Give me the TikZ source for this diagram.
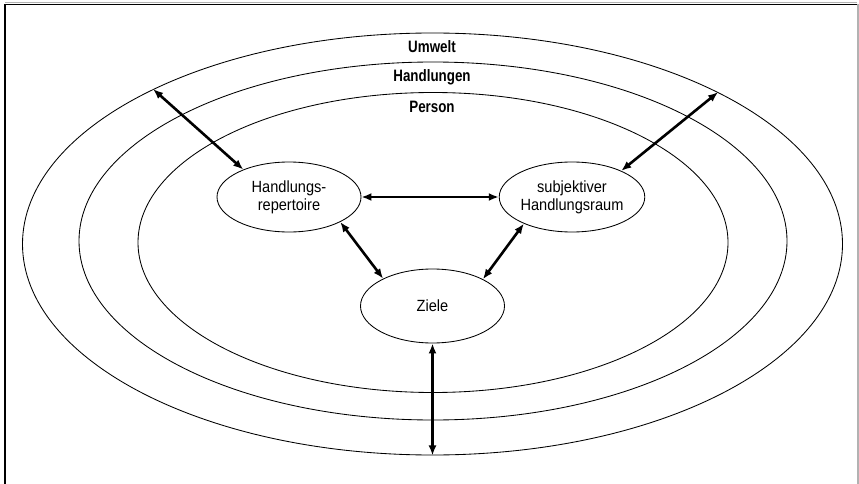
\documentclass[tikz,border=0pt]{standalone}
\usepackage{fontspec}
\setmainfont{Liberation Sans}
\newfontfamily\ringfont{Liberation Sans}[FakeStretch=0.81]
\newfontfamily\boxfont{Liberation Sans}[FakeStretch=0.9]
\usetikzlibrary{shapes.geometric,arrows.meta}
\begin{document}
\begin{tikzpicture}[x=1pt,y=-1pt,
  ring/.style={draw,ellipse,line width=0.85pt,inner sep=0pt},
  bubble/.style={draw,ellipse,line width=0.85pt,inner sep=0pt,align=center,
    font=\boxfont\fontsize{16.2}{18}\selectfont},
  ringlabel/.style={font=\ringfont\bfseries\fontsize{16.5}{18}\selectfont,inner sep=0pt},
  link/.style={line width=2.6pt,{Latex[length=10pt,width=8pt]}-{Latex[length=10pt,width=8pt]}}]
  \useasboundingbox (0,0) rectangle (859,484);
  % frame
  \draw[gray!60,line width=1pt] (5,3) -- (857,3);
  \draw[line width=1.4pt] (5,484) -- (5,4.5) -- (857,4.5);
  \draw[gray!60,line width=1.4pt] (858,4) -- (858,484);
  % nested rings
  \node[ring,minimum width=820pt,minimum height=422pt] (umwelt) at (432.5,244) {};
  \node[ring,minimum width=708pt,minimum height=358pt] (handl) at (433,241) {};
  \node[ring,minimum width=590pt,minimum height=300pt] (person) at (433,242.5) {};
  \node[ringlabel] (lu) at (432,47) {Umwelt};
  \node[ringlabel] (lh) at (432,77) {Handlungen};
  \node[ringlabel] (lp) at (432,107) {Person};
  % inner bubbles
  \node[bubble,minimum width=144pt,minimum height=70pt] (rep) at (289,197) {Handlungs-\\repertoire};
  \node[bubble,minimum width=136pt,minimum height=70pt] (sub) at (572,197) {subjektiver\\Handlungsraum};
  \node[bubble,minimum width=144pt,minimum height=74pt] (ziele) at (432.5,306) {Ziele};
  % connections
  \draw[link] (rep.east) -- (sub.west);
  \draw[link] (rep.-26) -- (ziele.151);
  \draw[link] (sub.209) -- (ziele.28);
  \draw[link] (umwelt.151.7) -- (rep.149);
  \draw[link] (umwelt.28.1) -- (sub.28.6);
  \draw[link] (ziele.south) -- (umwelt.south);
\end{tikzpicture}
\end{document}
